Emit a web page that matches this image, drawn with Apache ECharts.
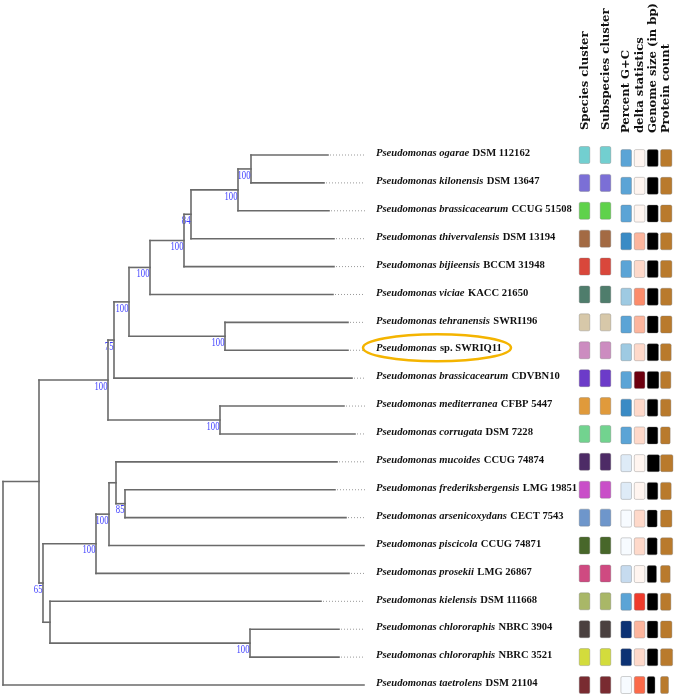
<!DOCTYPE html>
<html><head><meta charset="utf-8">
<script src="https://cdn.jsdelivr.net/npm/echarts@6/dist/echarts.min.js"></script>
<style>html,body{margin:0;padding:0;background:#fff}#c{width:676px;height:697px}</style>
</head><body><div id="c"></div>
<script>
// ---- leaves (top to bottom) ----
const speciesNames = [
  'Pseudomonas ogarae','Pseudomonas kilonensis','Pseudomonas brassicacearum','Pseudomonas thivervalensis',
  'Pseudomonas bijieensis','Pseudomonas viciae','Pseudomonas tehranensis','Pseudomonas',
  'Pseudomonas brassicacearum','Pseudomonas mediterranea','Pseudomonas corrugata','Pseudomonas mucoides',
  'Pseudomonas frederiksbergensis','Pseudomonas arsenicoxydans','Pseudomonas piscicola','Pseudomonas prosekii',
  'Pseudomonas kielensis','Pseudomonas chlororaphis','Pseudomonas chlororaphis','Pseudomonas taetrolens'
];
const strainNames = [
  'DSM 112162','DSM 13647','CCUG 51508','DSM 13194','BCCM 31948','KACC 21650','SWRI196','sp. SWRIQ11',
  'CDVBN10','CFBP 5447','DSM 7228','CCUG 74874','LMG 19851','CECT 7543','CCUG 74871','LMG 26867',
  'DSM 111668','NBRC 3904','NBRC 3521','DSM 21104'
];
// depth at which each leaf's solid branch ends
const leafBranchEnd = [325,321,326,331,331,330,345,345,349,341,352,334,332,343,361,346,318,336,336,361];
const tipExtent = 362;
const highlightLeafIndex = 7;

// ---- internal nodes (children first) ----
const nodeIds      = ['A','B','C','D','E','G','F','H','J','I','Q','O','N','M','R','P','L','K','root'];
const nodeDepth    = [248,235,188,181,147,222,126,111,217,105,122,113,106, 93,247, 47, 40, 36, 0];
const nodeChildren = [[0,1],['A',2],['B',3],['C',4],['D',5],[6,7],['E','G'],['F',8],[9,10],['H','J'],
                      [12,13],[11,'Q'],['O',14],['N',15],[17,18],[16,'R'],['M','P'],['I','L'],['K',19]];
const nodeSupport  = [100,100,84,100,100,100,100,75,100,100,85,null,100,100,100,null,65,null,null];

// ---- annotation columns ----
const clusterHeaders = ['Species cluster','Subspecies cluster'];
const statHeaders = ['Percent G+C','delta statistics','Genome size (in bp)','Protein count'];
const speciesClusterColors = ['#72cfd0','#7b6fd6','#5fd24b','#a36a43','#d9473b','#4f7d6c','#d7c8a9','#cc8cc0',
  '#6c3bc9','#e09a3b','#72d38f','#4d2b66','#c94fc8','#6e96cb','#48672a','#cf4a81','#a9b767','#4a403f','#d3dc3c','#792b31'];
const subspeciesClusterColors = ['#72cfd0','#7b6fd6','#5fd24b','#a36a43','#d9473b','#4f7d6c','#d7c8a9','#cc8cc0',
  '#6c3bc9','#e09a3b','#72d38f','#4d2b66','#c94fc8','#6e96cb','#48672a','#cf4a81','#a9b767','#4a403f','#d3dc3c','#792b31'];
const gcColors = ['#5ba4d6','#5ba4d6','#5ba4d6','#3a8bc5','#5ba4d6','#9ecae2','#5ba4d6','#9ecae2','#5ba4d6','#3a8bc5',
  '#5ba4d6','#deebf7','#deebf7','#f7fbff','#f7fbff','#c6dbef','#5ba4d6','#0c3274','#0c3274','#f7fbff'];
const deltaColors = ['#fff5f0','#fff5f0','#fff5f0','#fcb59d','#fed9ca','#fc8c6b','#fcb59d','#fed9ca','#6c000f','#fed9ca',
  '#fed9ca','#fff5f0','#fff5f0','#fed9ca','#fed9ca','#fff5f0','#ef3b2c','#fcb59d','#fed9ca','#fb6a4a'];
const genomeSizeMb = [6.5,6.5,6.5,6.5,6.5,6.5,6.5,6.7,6.9,6.3,6.3,7.3,6.3,5.9,5.9,5.5,6.3,6.3,6.3,4.6];
const proteinCount = [5950,5960,5940,5970,5950,5960,5950,5580,5420,5430,5040,6500,5590,5960,6340,5040,5420,5960,6330,4170];

// ---- build tree geometry ----
const nodeIndex = {}; nodeIds.forEach((id,i)=>nodeIndex[id]=i);
const nodeY = [];
const childY = c => typeof c === 'number' ? c : nodeY[nodeIndex[c]];
const childDepth = c => typeof c === 'number' ? leafBranchEnd[c] : nodeDepth[nodeIndex[c]];
nodeIds.forEach((id,i)=>{ const ys = nodeChildren[i].map(childY); nodeY[i] = (Math.min(...ys)+Math.max(...ys))/2; });

const lineStyle = {stroke:'#6a6a6a', lineWidth:1.6, lineCap:'square'};
const serif = "'Liberation Serif', 'Times New Roman', serif";

const treeSeries = {
  type:'custom', xAxisIndex:0, yAxisIndex:0, silent:true,
  data: nodeIds.map((id,i)=>[nodeDepth[i], nodeY[i], i]),
  renderItem(params, api){
    const i = api.value(2);
    const d = nodeDepth[i];
    const ys = nodeChildren[i].map(childY);
    const top = api.coord([d, Math.min(...ys)]), bot = api.coord([d, Math.max(...ys)]);
    const children = [{type:'line', shape:{x1:top[0],y1:top[1],x2:bot[0],y2:bot[1]}, style:lineStyle}];
    nodeChildren[i].forEach(c=>{
      const a = api.coord([d, childY(c)]), b = api.coord([childDepth(c), childY(c)]);
      children.push({type:'line', shape:{x1:a[0],y1:a[1],x2:b[0],y2:b[1]}, style:lineStyle});
    });
    if (nodeSupport[i] != null) {
      const p = api.coord([d, nodeY[i]]);
      children.push({type:'text', x:p[0]-0.5, y:p[1]+0.5, scaleX:0.72,
        style:{text:String(nodeSupport[i]), fill:'#3d3dff', font:"12px 'Liberation Serif', serif", align:'right', verticalAlign:'top'}});
    }
    return {type:'group', children};
  }
};

const tipSeries = {
  type:'custom', xAxisIndex:0, yAxisIndex:0, silent:true,
  data: speciesNames.map((n,k)=>[leafBranchEnd[k], k]),
  renderItem(params, api){
    const k = params.dataIndex;
    const a = api.coord([leafBranchEnd[k], k]), b = api.coord([tipExtent, k]);
    const children = [];
    if (b[0]-a[0] > 2) children.push({type:'line', shape:{x1:a[0]+2,y1:a[1],x2:b[0],y2:b[1]},
      style:{stroke:'#999', lineWidth:1, lineDash:[1,2]}});
    const lx = b[0] + 11;
    children.push({type:'text', x:lx, y:b[1]-1.5, style:{
      text:'{i|'+speciesNames[k]+'} {n|'+strainNames[k]+'}', verticalAlign:'middle', align:'left',
      rich:{i:{fontStyle:'italic', fontWeight:'bold', fontSize:10.6, fontFamily:serif, fill:'#111'},
            n:{fontWeight:'bold', fontSize:10.6, fontFamily:serif, fill:'#111'}}}});
    if (k === highlightLeafIndex) {
      children.push({type:'ellipse', shape:{cx:lx+61, cy:b[1]-2.5, rx:74, ry:13.5},
        style:{fill:'none', stroke:'#f4b400', lineWidth:2.5}});
    }
    return {type:'group', children};
  }
};

const cellStroke = 'rgba(120,120,120,0.35)';
const clusterSeries = {
  type:'custom', xAxisIndex:1, yAxisIndex:1, silent:true,
  data: [].concat(...speciesNames.map((n,r)=>[[0,r],[1,r]])),
  renderItem(params, api){
    const c = api.value(0), r = api.value(1);
    const p = api.coord([c, r]);
    const color = (c===0 ? speciesClusterColors : subspeciesClusterColors)[r];
    return {type:'rect', shape:{x:p[0]-5.3, y:p[1]-8.5, width:10.6, height:17, r:1.5},
      style:{fill:color, stroke:cellStroke, lineWidth:1}};
  }
};
const maxGenome = Math.max(...genomeSizeMb), maxProt = Math.max(...proteinCount);
const statSeries = {
  type:'custom', xAxisIndex:2, yAxisIndex:2, silent:true,
  data: [].concat(...speciesNames.map((n,r)=>[[0,r],[1,r],[2,r],[3,r]])),
  renderItem(params, api){
    const c = api.value(0), r = api.value(1);
    const p = api.coord([c, r]);
    const cw = api.size([1,0])[0];
    let x = p[0]-5.3, w = 10.6, fill;
    if (c===0) fill = gcColors[r];
    else if (c===1) fill = deltaColors[r];
    else if (c===2) { fill = '#000'; x = p[0]-5.8; w = cw*0.92*genomeSizeMb[r]/maxGenome; }
    else { fill = '#b97a2c'; x = p[0]-5.8; w = cw*0.92*proteinCount[r]/maxProt; }
    return {type:'rect', shape:{x, y:p[1]-8.5, width:w, height:17, r:1.5},
      style:{fill, stroke:cellStroke, lineWidth:1}};
  }
};

const headerLabel = {rotate:90, margin:25, interval:0, fontFamily:"'DejaVu Serif', serif", fontSize:11.6, fontWeight:'bold', color:'#111'};
const yHidden = g => ({gridIndex:g, type:'value', min:0, max:19, inverse:true, show:false});

const chart = echarts.init(document.getElementById('c'));
chart.setOption({
  animation:false,
  backgroundColor:'#fff',
  grid:[
    {left:3, width:362, top:155, bottom:12},
    {left:574, width:42, top:155, bottom:12},
    {left:619.5, width:53.6, top:155, bottom:12}
  ],
  xAxis:[
    {gridIndex:0, type:'value', min:0, max:tipExtent, show:false},
    {gridIndex:1, type:'category', data:clusterHeaders, position:'top', axisLine:{show:false}, axisTick:{show:false}, splitLine:{show:false}, axisLabel:headerLabel},
    {gridIndex:2, type:'category', data:statHeaders, position:'top', axisLine:{show:false}, axisTick:{show:false}, splitLine:{show:false}, axisLabel:headerLabel}
  ],
  yAxis:[yHidden(0), yHidden(1), yHidden(2)],
  series:[treeSeries, tipSeries, clusterSeries, statSeries]
});
</script></body></html>
